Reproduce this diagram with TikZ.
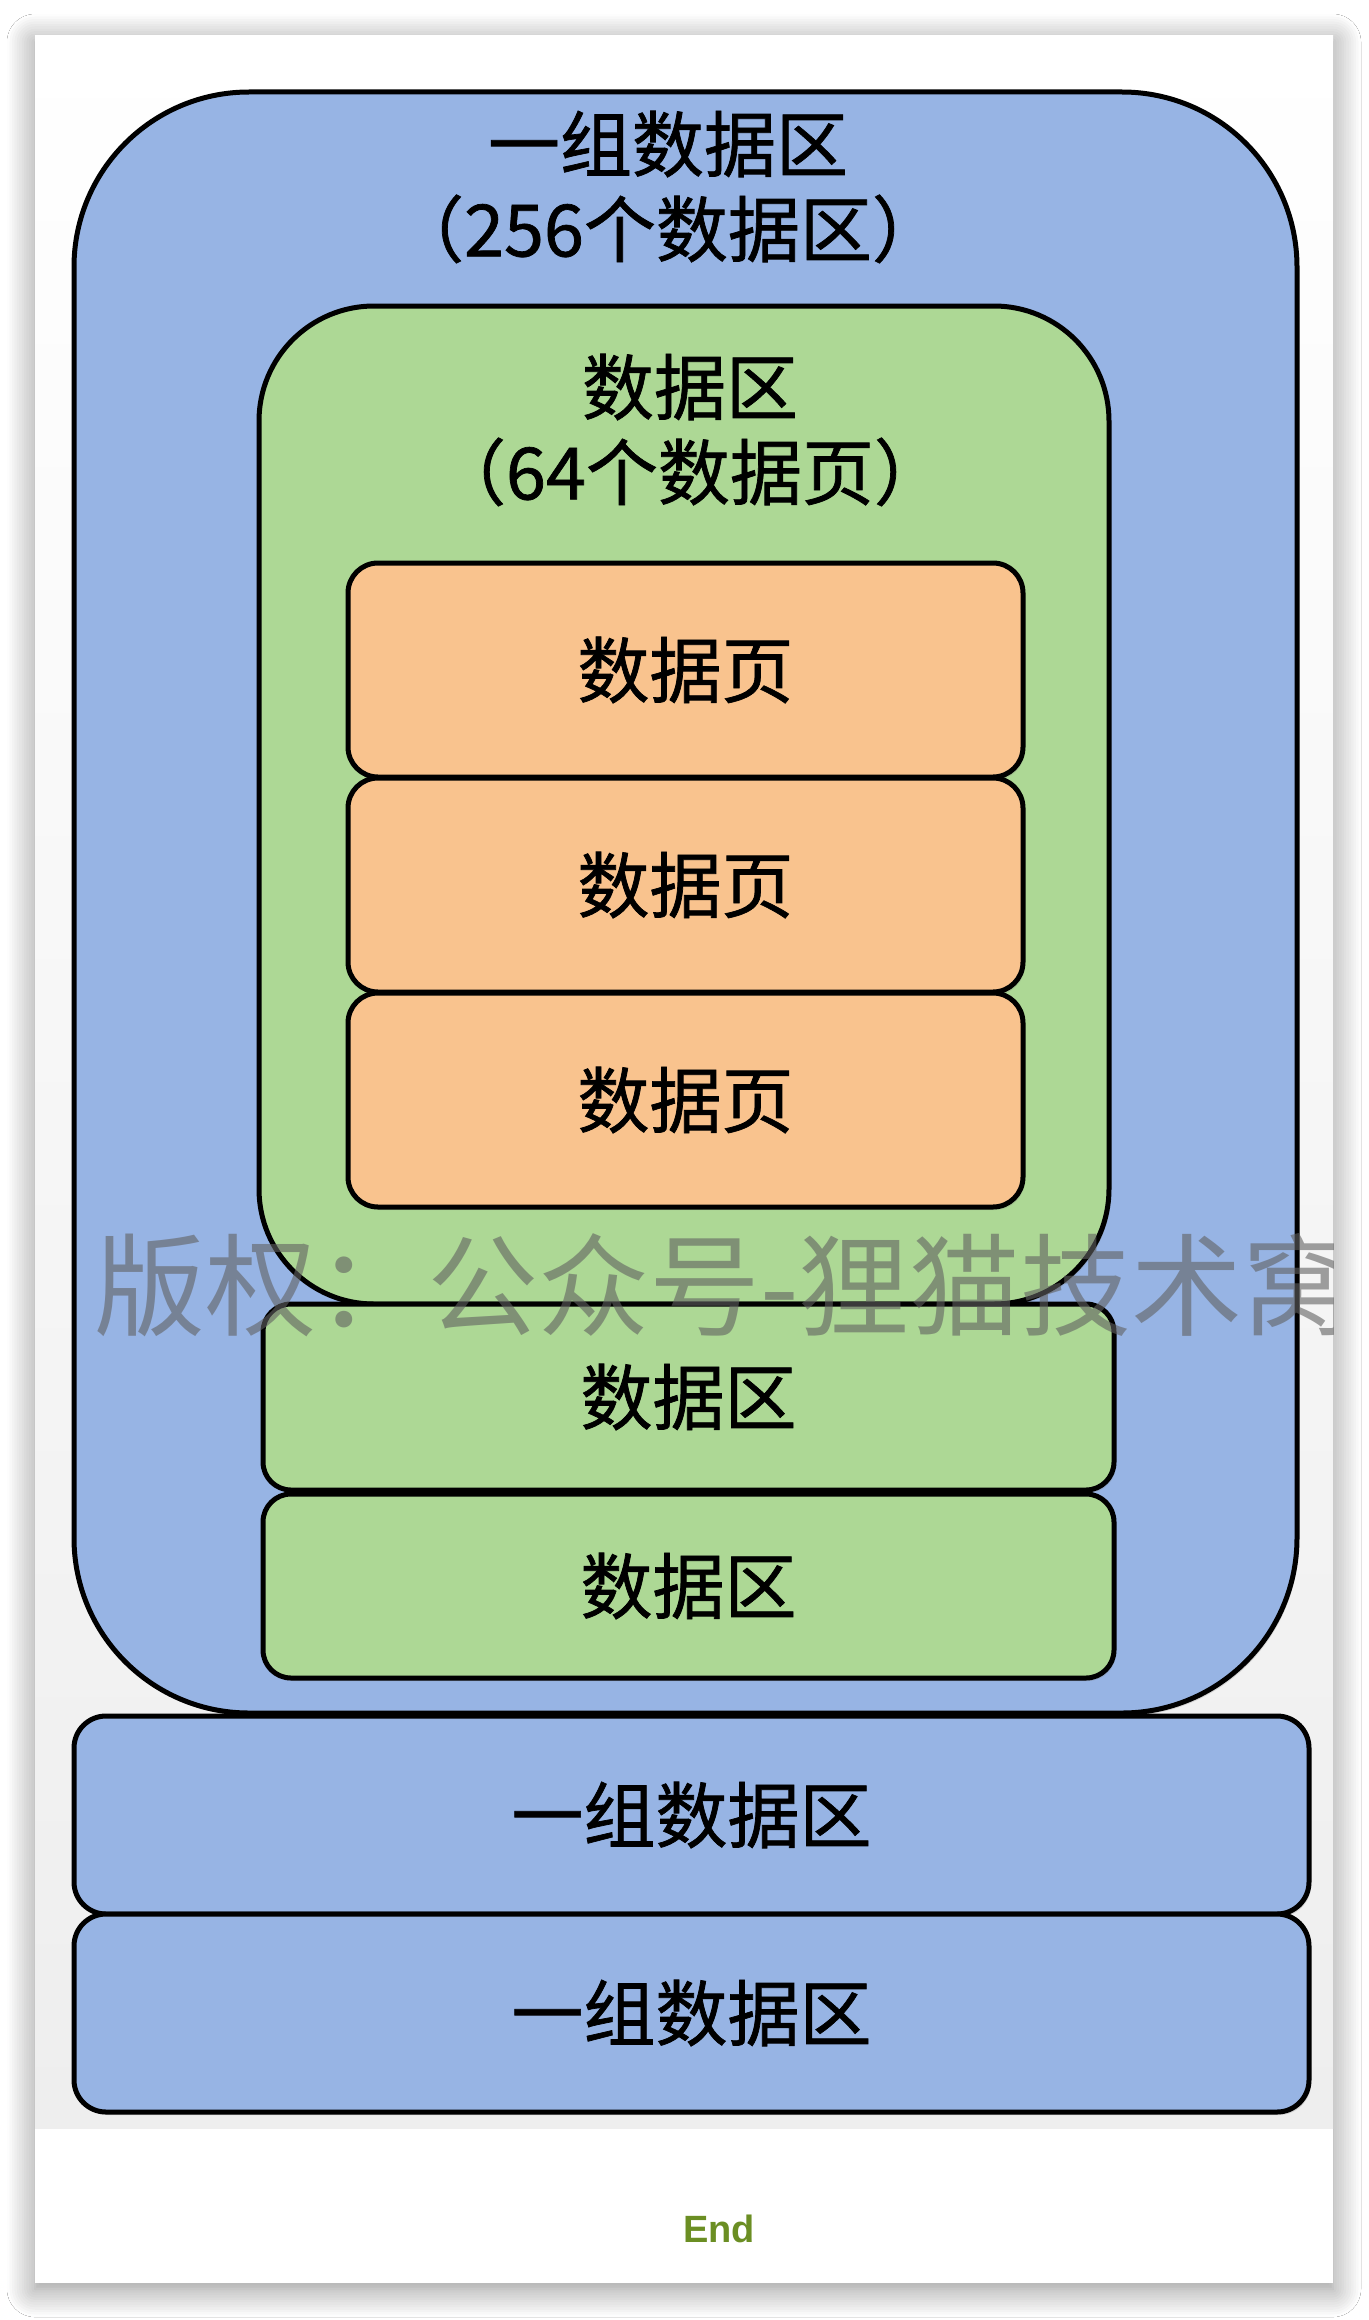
\documentclass[tikz,border=0pt]{standalone}
\usepackage{fontspec}
\setmainfont{Noto Sans CJK SC}
\newfontfamily\labelfont{Noto Sans CJK SC}[FakeBold=1]
\newfontfamily\endfont{Liberation Sans}
\usetikzlibrary{shadows,shadows.blur}

\definecolor{groupblue}{RGB}{151,180,228}
\definecolor{extgreen}{RGB}{173,216,149}
\definecolor{pageorange}{RGB}{249,195,142}
\definecolor{endgreen}{RGB}{107,142,35}
\definecolor{imggray}{RGB}{238,238,238}

\tikzset{
  box/.style={draw=black, line width=5pt, inner sep=0pt,
    font=\labelfont\fontsize{72}{86}\selectfont, text=black,
    drop shadow={shadow xshift=2pt, shadow yshift=-3pt, opacity=0.25}},
  groupbox/.style={box, fill=groupblue},
  extbox/.style={box, fill=extgreen},
  pagebox/.style={box, fill=pageorange, rounded corners=30pt},
  title/.style={font=\labelfont\fontsize{72}{85}\selectfont, align=center, inner sep=0pt, text=black},
}

\begin{document}
\begin{tikzpicture}[x=1pt,y=-1pt]
  \useasboundingbox (0,0) rectangle (1368,2320);
  \fill[white] (0,0) rectangle (1368,2320);

  % card with soft shadow and image area
  \path[fill=white, blur shadow={shadow xshift=0pt, shadow yshift=-6pt,
        shadow blur radius=28pt, shadow opacity=45, shadow blur steps=12}]
        (35,36) rectangle (1333,2283);
  \shade[top color=white, bottom color=imggray] (35,36) rectangle (1333,2128);

  % one group of extents
  \node[groupbox, rounded corners=175pt, minimum width=1223pt, minimum height=1621pt]
    (group) at (685.5,902.5) {};
  \node[title] (grouptitle) at (668,187) {一组数据区\\（256个数据区）};

  % one extent holding data pages
  \node[extbox, rounded corners=115pt, minimum width=850pt, minimum height=998pt]
    (extent) at (684,805) {};
  \node[title] (extenttitle) at (690,430) {数据区\\（64个数据页）};

  \node[pagebox, minimum width=675pt, minimum height=214pt] (page1) at (685.5,670) {数据页};
  \node[pagebox, minimum width=675pt, minimum height=214pt] (page2) at (685.5,885) {数据页};
  \node[pagebox, minimum width=675pt, minimum height=214pt] (page3) at (685.5,1100) {数据页};

  % further extents
  \node[extbox, rounded corners=28pt, minimum width=851pt, minimum height=186pt]
    (extent2) at (688.5,1397) {数据区};
  \node[extbox, rounded corners=28pt, minimum width=851pt, minimum height=184pt]
    (extent3) at (688.5,1586) {数据区};

  % further groups
  \node[groupbox, rounded corners=32pt, minimum width=1235pt, minimum height=198pt]
    (group2) at (691.5,1815) {一组数据区};
  \node[groupbox, rounded corners=32pt, minimum width=1235pt, minimum height=198pt]
    (group3) at (691.5,2013) {一组数据区};

  % watermark
  \begin{scope}
    \clip (35,36) rectangle (1333,2128);
    \node[anchor=west, inner sep=0pt, font=\fontsize{111}{111}\selectfont,
          text=black!62, opacity=0.6] (watermark) at (94,1285) {版权：公众号-狸猫技术窝};
  \end{scope}

  \node[font=\endfont\bfseries\fontsize{38}{38}\selectfont, text=endgreen, inner sep=0pt]
    (endmark) at (719,2229) {End};
\end{tikzpicture}
\end{document}
